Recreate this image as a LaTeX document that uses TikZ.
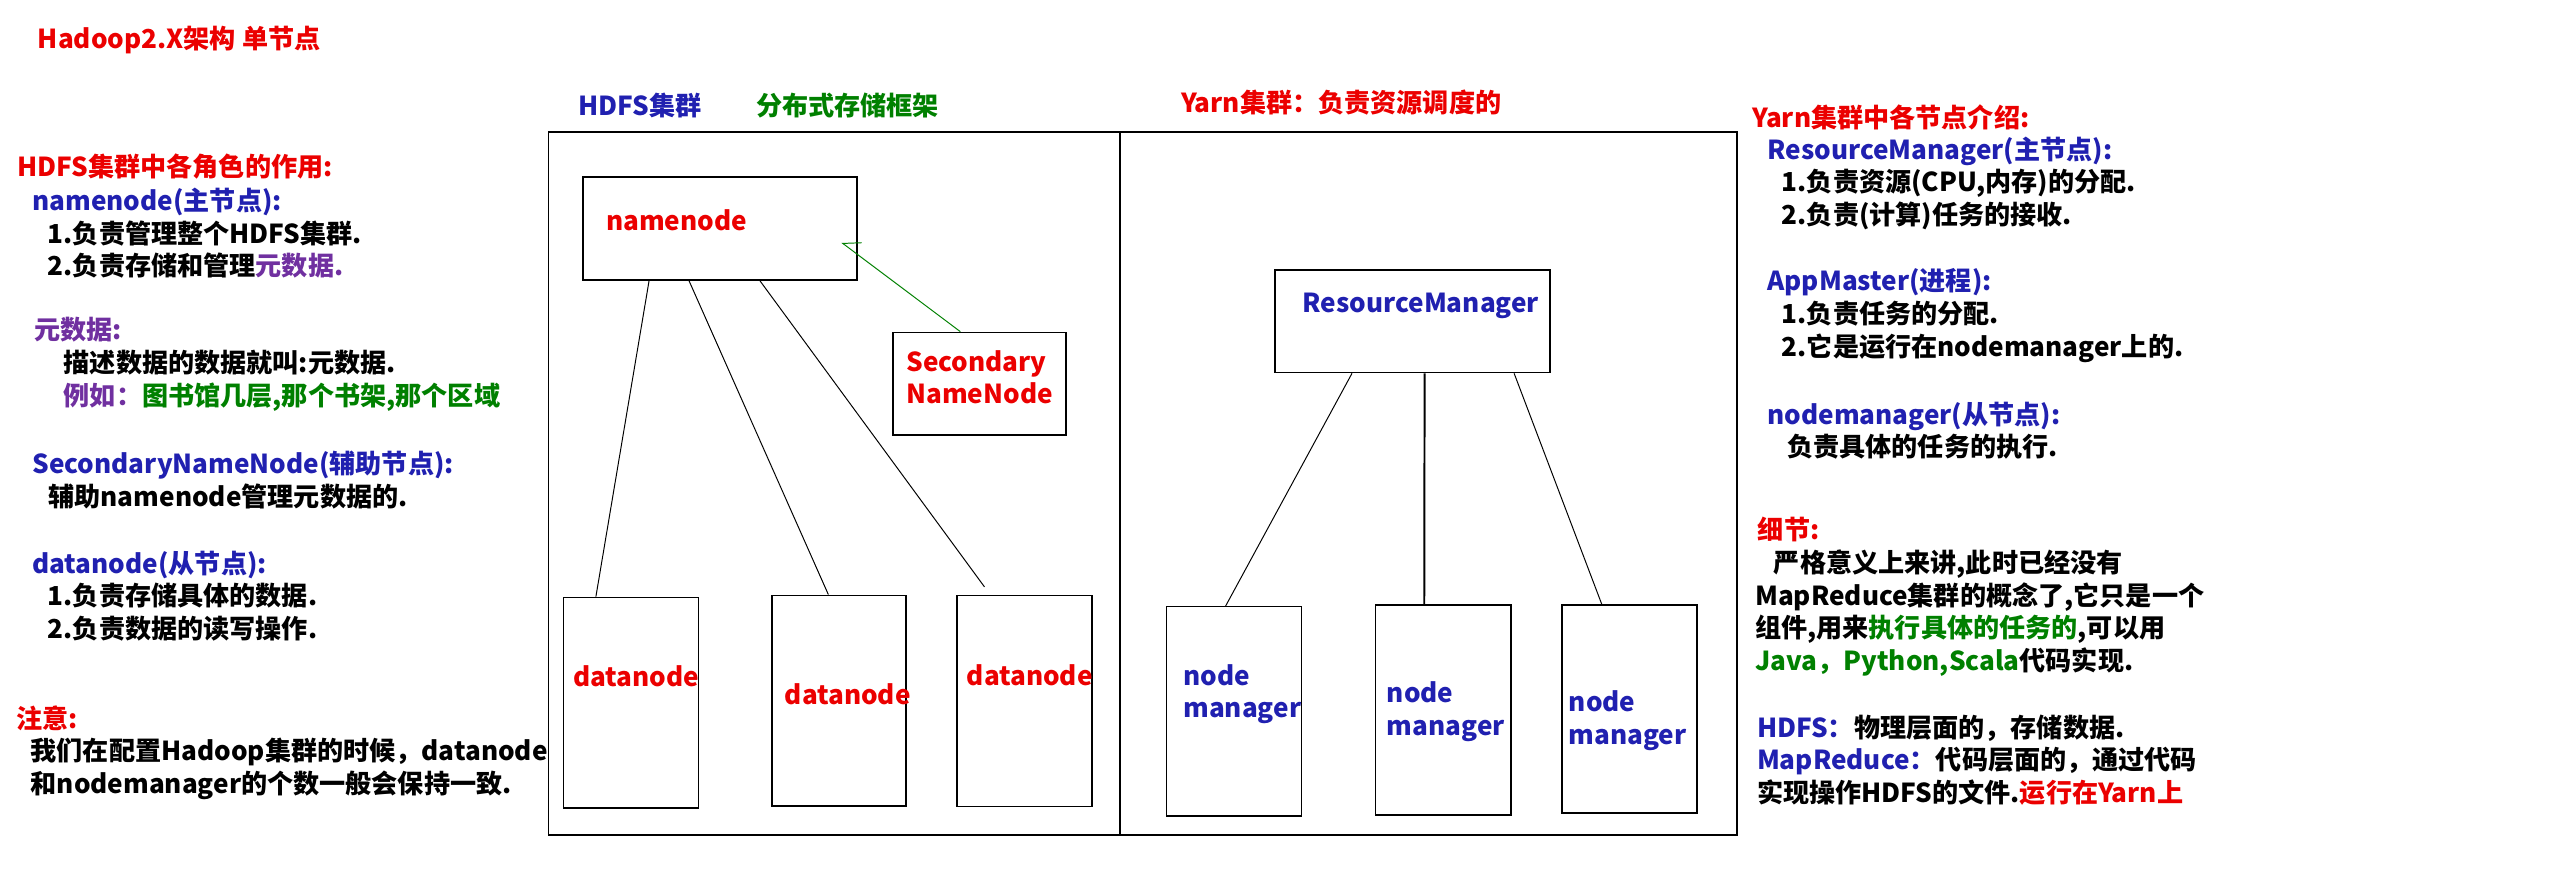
\documentclass[tikz,border=0pt]{standalone}
\usepackage{fontspec}
\setmainfont{Noto Sans CJK SC}
\usepackage{xcolor}
\usepackage{tikz}
\usetikzlibrary{positioning,arrows.meta,calc}

\definecolor{hred}{RGB}{235,0,0}
\definecolor{hblue}{RGB}{32,32,176}
\definecolor{hgreen}{RGB}{0,128,0}
\definecolor{hpurple}{RGB}{112,48,160}

\begin{document}
\begin{tikzpicture}[x=1pt, y=-1pt,
    txt/.style={anchor=west, inner sep=0pt, align=left, font=\bfseries\fontsize{16}{20}\selectfont},
    box/.style 2 args={draw, line width=1.1pt, inner sep=0pt, minimum width=#1pt, minimum height=#2pt},
    frame/.style 2 args={draw, line width=1pt, inner sep=0pt, minimum width=#1pt, minimum height=#2pt},
    link/.style={draw=black, line width=0.6pt},
]
\useasboundingbox (0,0) rectangle (1568,545);

% left column
\node[txt, text=hred] (title) at (23,24.5) {Hadoop2.X架构 单节点};
\node[txt, text=hred] (hdfsrole) at (10.5,102.1) {HDFS集群中各角色的作用:};
\node[txt] (nnnote) at (19.7,142.9) {\textcolor{hblue}{namenode(主节点):}\\
  \hspace*{9.4pt}1.负责管理整个HDFS集群.\\
  \hspace*{9.4pt}2.负责存储和管理\textcolor{hpurple}{元数据.}};
\node[txt] (metanote) at (20.8,223.2) {\textcolor{hpurple}{元数据:}\\
  \hspace*{18.1pt}描述数据的数据就叫:元数据.\\
  \hspace*{18.1pt}\textcolor{hpurple}{例如：}\textcolor{hgreen}{图书馆几层,那个书架,那个区域}};
\node[txt] (snnnote) at (19.7,294) {\textcolor{hblue}{SecondaryNameNode(辅助节点):}\\
  \hspace*{9.8pt}辅助namenode管理元数据的.};
\node[txt] (dnnote) at (19.7,365) {\textcolor{hblue}{datanode(从节点):}\\
  \hspace*{9.4pt}1.负责存储具体的数据.\\
  \hspace*{9.4pt}2.负责数据的读写操作.};
\node[txt, text=hred] (attn) at (9.8,440) {注意:};
\node[txt] (attnnote) at (18.6,470.9) {我们在配置Hadoop集群的时候，datanode\\和nodemanager的个数一般会保持一致.};

% clusters
\node[frame={350}{430.5}] (hdfs) at (511,296.25) {};
\node[frame={378}{430.5}] (yarn) at (875,296.25) {};
\node[txt, text=hblue] (hdfslbl) at (354,64.7) {HDFS集群};
\node[txt, text=hgreen] (hdfsdesc) at (463,64.7) {分布式存储框架};
\node[txt, text=hred] (yarnlbl) at (723.4,62.8) {Yarn集群：负责资源调度的};

% hdfs nodes
\node[box={168}{63}] (nn) at (441,140) {};
\node[txt, text=hred] (nnlbl) at (371,135) {namenode};
\node[box={106}{62.6}] (snn) at (600,235) {};
\node[txt, text=hred] (snnlbl) at (555,231) {Secondary\\NameNode};
\node[box={82.6}{129}] (dn1) at (386.5,430.5) {};
\node[txt, text=hred] (dn1lbl) at (351,414.4) {datanode};
\node[box={82}{129.2}] (dn2) at (514,429.3) {};
\node[txt, text=hred] (dn2lbl) at (480.5,425) {datanode};
\node[box={82.6}{129.3}] (dn3) at (627.6,429.35) {};
\node[txt, text=hred] (dn3lbl) at (592,413.5) {datanode};

% yarn nodes
\node[box={168.6}{62.7}] (rm) at (865.1,196.75) {};
\node[txt, text=hblue] (rmlbl) at (797.7,187.4) {ResourceManager};
\node[box={82.6}{128.3}, line width=0.7pt] (nm1) at (755.7,435.65) {};
\node[txt, text=hblue] (nm1lbl) at (724.6,425.25) {node\\manager};
\node[box={83.1}{128.6}] (nm2) at (884.05,434.9) {};
\node[txt, text=hblue] (nm2lbl) at (849.3,436) {node\\manager};
\node[box={82.8}{127.4}] (nm3) at (998,434.3) {};
\node[txt, text=hblue] (nm3lbl) at (960.7,441.5) {node\\manager};

% links
\draw[link] ($(nn.south west)!0.243!(nn.south east)$) -- ($(dn1.north west)!0.243!(dn1.north east)$);
\draw[link] ($(nn.south west)!0.388!(nn.south east)$) -- ($(dn2.north west)!0.42!(dn2.north east)$);
\draw[link, shorten >=5.8pt] ($(nn.south west)!0.645!(nn.south east)$) -- ($(dn3.north west)!0.247!(dn3.north east)$);
\draw[link] ($(rm.south west)!0.282!(rm.south east)$) -- ($(nm1.north west)!0.44!(nm1.north east)$);
\draw[link, line width=1.2pt] ($(rm.south west)!0.544!(rm.south east)$) -- ($(nm2.north west)!0.361!(nm2.north east)$);
\draw[link] ($(rm.south west)!0.867!(rm.south east)$) -- ($(nm3.north west)!0.298!(nm3.north east)$);
\draw[link, draw=hgreen, -{Straight Barb[harpoon, swap, length=9pt, width=14.6pt]}] ($(snn.north west)!0.39!(snn.north east)$) -- ([shift={(-10,8.6)}]nn.east);

% right column
\node[txt, text=hred] (yarnrole) at (1073.2,71.9) {Yarn集群中各节点介绍:};
\node[txt] (rmnote) at (1082.4,112.3) {\textcolor{hblue}{ResourceManager(主节点):}\\
  \hspace*{8.8pt}1.负责资源(CPU,内存)的分配.\\
  \hspace*{8.8pt}2.负责(计算)任务的接收.};
\node[txt] (amnote) at (1082.4,193.2) {\textcolor{hblue}{AppMaster(进程):}\\
  \hspace*{8.8pt}1.负责任务的分配.\\
  \hspace*{8.8pt}2.它是运行在nodemanager上的.};
\node[txt] (nmnote) at (1082.4,263.7) {\textcolor{hblue}{nodemanager(从节点):}\\
  \hspace*{12.1pt}负责具体的任务的执行.};
\node[txt, text=hred] (detail) at (1076.5,324.6) {细节:};
\node[txt] (detailnote) at (1074.8,375.5) {\hspace*{11.5pt}严格意义上来讲,此时已经没有\\
  MapReduce集群的概念了,它只是一个\\
  组件,用来\textcolor{hgreen}{执行具体的任务的},可以用\\
  \textcolor{hgreen}{Java，Python,Scala}代码实现.};
\node[txt] (layernote) at (1076,465.5) {\textcolor{hblue}{HDFS：}物理层面的，存储数据.\\
  \textcolor{hblue}{MapReduce：}代码层面的，通过代码\\
  实现操作HDFS的文件.\textcolor{hred}{运行在Yarn上}};
\end{tikzpicture}
\end{document}
